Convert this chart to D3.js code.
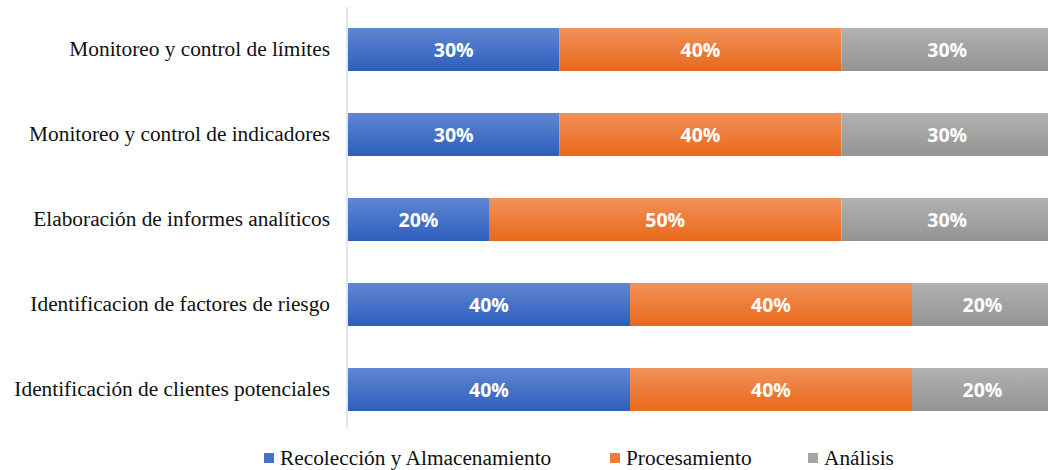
<!DOCTYPE html>
<html>
<head>
<meta charset="utf-8">
<script src="https://cdn.jsdelivr.net/npm/d3@7"></script>
<style>
  html, body { margin: 0; padding: 0; background: #fff; overflow: hidden; }
  svg { display: block; }
</style>
</head>
<body>
<svg id="chart" width="1048" height="470"></svg>
<script>
// Categories, top to bottom
const categories = [
  "Monitoreo y control de límites",
  "Monitoreo y control de indicadores",
  "Elaboración de informes analíticos",
  "Identificacion de factores de riesgo",
  "Identificación de clientes potenciales"
];
// Series names (legend order)
const seriesNames = ["Recolección y Almacenamiento", "Procesamiento", "Análisis"];
// Share of each stage per category (percent)
const recoleccion = [30, 30, 20, 40, 40];
const procesamiento = [40, 40, 50, 40, 40];
const analisis = [30, 30, 30, 20, 20];

const rows = categories.map((c, i) => ({
  category: c,
  "Recolección y Almacenamiento": recoleccion[i],
  "Procesamiento": procesamiento[i],
  "Análisis": analisis[i]
}));

const svg = d3.select("#chart");

const x = d3.scaleLinear().domain([0, 100]).range([348, 1053]);
const y = d3.scaleBand().domain(categories).range([7, 432]).paddingInner(0.494).paddingOuter(0.247);

// Vertical gradients for each series
const grads = [
  { id: "g0", top: "#5f86d2", bottom: "#2e5fbd" },
  { id: "g1", top: "#f19159", bottom: "#e8691a" },
  { id: "g2", top: "#b1b1b1", bottom: "#949494" }
];
const defs = svg.append("defs");
grads.forEach(g => {
  const lg = defs.append("linearGradient").attr("id", g.id)
    .attr("x1", 0).attr("y1", 0).attr("x2", 0).attr("y2", 1);
  lg.append("stop").attr("offset", "0%").attr("stop-color", g.top);
  lg.append("stop").attr("offset", "100%").attr("stop-color", g.bottom);
});
const legendColors = ["#4472c4", "#ed7d31", "#a5a5a5"];

const stack = d3.stack().keys(seriesNames);
const layers = stack(rows);

const layerG = svg.append("g").selectAll("g").data(layers).join("g")
  .attr("fill", (d, i) => `url(#${grads[i].id})`);

layerG.selectAll("rect").data(d => d).join("rect")
  .attr("x", d => x(d[0]))
  .attr("y", d => y(d.data.category))
  .attr("width", d => x(d[1]) - x(d[0]))
  .attr("height", y.bandwidth());

// Value labels centred in each segment
svg.append("g").selectAll("g").data(layers).join("g")
  .selectAll("text").data(d => d).join("text")
  .attr("x", d => (x(d[0]) + x(d[1])) / 2)
  .attr("y", d => y(d.data.category) + y.bandwidth() / 2)
  .attr("dy", "0.36em")
  .attr("text-anchor", "middle")
  .attr("fill", "#ffffff")
  .style("font-family", "'Open Sans', sans-serif")
  .style("font-weight", "700")
  .style("font-size", "19.5px")
  .text(d => `${d[1] - d[0]}%`);

// Category axis
const axis = svg.append("g").attr("transform", `translate(${x(0) - 1},0)`)
  .call(d3.axisLeft(y).tickSize(0).tickPadding(17));
axis.select(".domain").attr("stroke", "#d9dde6").attr("stroke-width", 1.5)
  .attr("d", `M0,7V428`);
axis.selectAll("text")
  .attr("fill", "#111")
  .style("font-family", "'Liberation Serif', 'Times New Roman', serif")
  .style("font-size", "21.33px");

// Legend
const legendX = [264, 610, 808];
const legend = svg.append("g").selectAll("g").data(seriesNames).join("g")
  .attr("transform", (d, i) => `translate(${legendX[i]},458)`);
legend.append("rect").attr("x", 0).attr("y", -5).attr("width", 10).attr("height", 10)
  .attr("fill", (d, i) => legendColors[i]);
legend.append("text").attr("x", 16).attr("dy", "0.35em")
  .attr("fill", "#111")
  .style("font-family", "'Liberation Serif', 'Times New Roman', serif")
  .style("font-size", "21.33px")
  .text(d => d);
</script>
</body>
</html>
